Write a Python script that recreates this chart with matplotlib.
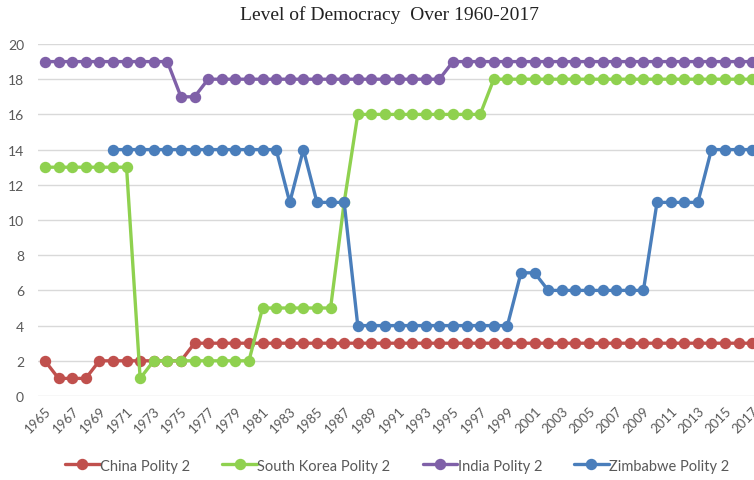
import matplotlib
matplotlib.use("Agg")
import matplotlib.pyplot as plt
import numpy as np

years = list(range(1965, 2018))

china = [2, 1, 1, 1, 2, 2, 2, 2, 2, 2, 2] + [3] * 42
south_korea = [13] * 7 + [1] + [2] * 8 + [5] * 6 + [11] + [16] * 10 + [18] * 20
india = [19] * 10 + [17] * 2 + [18] * 18 + [19] * 23
zimbabwe = ([np.nan] * 5 + [14] * 13 + [11, 14, 11, 11, 11] + [4] * 12
            + [7, 7] + [6] * 8 + [11] * 4 + [14] * 4)

series_names = ["China Polity 2", "South Korea Polity 2", "India Polity 2", "Zimbabwe Polity 2"]
series_values = [china, south_korea, india, zimbabwe]
series_colors = ["#c0504d", "#8fd14f", "#7f60a8", "#4a7ebb"]

tick_years = list(range(1965, 2018, 2))
y_ticks = list(range(0, 21, 2))

fig = plt.figure(figsize=(7.54, 4.81), dpi=100)
ax = fig.add_axes([38 / 754, 84 / 481, 716 / 754, 352 / 481])

for name, vals, col in zip(series_names, series_values, series_colors):
    ax.plot(years, vals, color=col, lw=2.4, marker="o", markersize=7.2,
            label=name, clip_on=False, solid_capstyle="round")

ax.set_xlim(1964.49, 2017.13)
ax.set_ylim(0, 20)
ax.set_yticks(y_ticks)
ax.set_xticks(tick_years)
ax.set_xticklabels([str(y) for y in tick_years], rotation=45, ha="right",
                   rotation_mode="anchor", fontsize=9.5, color="#595959", family="Lato")
ax.set_yticklabels([str(v) for v in y_ticks], fontsize=10, color="#595959", family="Lato")
ax.tick_params(axis="both", length=0)
ax.tick_params(axis="y", pad=10)
ax.tick_params(axis="x", pad=6)
ax.grid(axis="y", color="#d9d9d9", lw=1)
ax.set_axisbelow(True)
for s in ax.spines.values():
    s.set_visible(False)

fig.text(0.517, 0.968, "Level of Democracy  Over 1960-2017", ha="center", va="center",
         fontsize=14, family="Liberation Serif", color="#222222")

fig.legend(loc="center", bbox_to_anchor=(0.527, 0.03), ncol=4, frameon=False,
           handlelength=2.35, columnspacing=2.2, handletextpad=0.05,
           prop={"family": "Lato", "size": 10.5}, labelcolor="#595959")

fig.savefig("out.png", dpi=100)
